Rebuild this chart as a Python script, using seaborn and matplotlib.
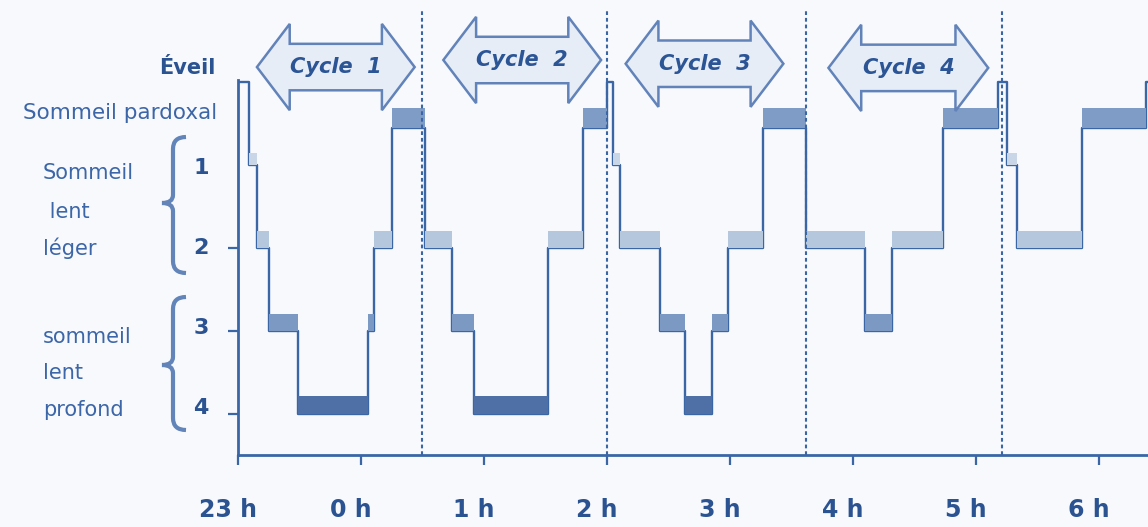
import numpy as np
import pandas as pd
import seaborn as sns
import matplotlib.pyplot as plt
from matplotlib.patches import Polygon, PathPatch
from matplotlib.path import Path

# hypnogram data: start of each stage (minutes after 23:00) and the stage
seg_start_min = [0, 5, 9, 15, 29, 63, 66, 75, 91, 104, 115, 151, 168, 180, 183,
                 186, 206, 218, 231, 239, 256, 277, 306, 319, 344, 371, 375, 380,
                 412, 443]
seg_stage = ["W", "1", "2", "3", "4", "3", "2", "REM", "2", "3", "4", "2", "REM",
             "W", "1", "2", "3", "4", "3", "2", "REM", "2", "3", "2", "REM", "W",
             "1", "2", "REM", "W"]
end_min = 444

cycle_names = ["Cycle  1", "Cycle  2", "Cycle  3", "Cycle  4"]
cycle_bounds_min = [89.5, 180, 277, 372.5]

hour_ticks_min = [0, 60, 120, 180, 240, 300, 360, 420]
hour_labels = ["23 h", "0 h", "1 h", "2 h", "3 h", "4 h", "5 h", "6 h"]

# styling
W, H = 1148, 527
bg = "#f7f9fc"
line_c = "#3a66a6"
text_c = "#3c66a8"
dark_c = "#2b5391"
depth = {"W": 0.0, "REM": 0.55, "1": 1.0, "2": 2.0, "3": 3.0, "4": 4.0}
bar_h = {"REM": 0.24, "1": 0.14, "2": 0.2, "3": 0.2, "4": 0.22}
bar_c = {"REM": "#7f9cc6", "1": "#c9d6e7", "2": "#b5c7dd", "3": "#7b99c3", "4": "#4e70a7"}

sns.set_theme(style="white")
plt.rcParams['font.family'] = ['DejaVu Sans']

fig = plt.figure(figsize=(W / 100, H / 100), dpi=100, facecolor=bg)
ax = fig.add_axes([238.5 / W, (H - 455) / H, (W - 238.5) / W, 455 / H])
ax.set_facecolor(bg)

# stage bars (drawn over the step line)
for i, st in enumerate(seg_stage):
    if st == "W":
        continue
    t0 = seg_start_min[i]
    t1 = seg_start_min[i + 1] if i + 1 < len(seg_start_min) else end_min
    ax.bar(t0, bar_h[st], width=t1 - t0, bottom=depth[st] - bar_h[st],
           align="edge", color=bar_c[st], linewidth=0, zorder=5)

# step line
df = pd.DataFrame({"t": seg_start_min + [end_min],
                   "depth": [depth[s] for s in seg_stage] + [depth[seg_stage[-1]]]})
sns.lineplot(data=df, x="t", y="depth", drawstyle="steps-post", color=line_c,
             lw=1.7, estimator=None, sort=False, ax=ax, zorder=4)

ax.set_xlim(0, 444)
ax.set_ylim(4.494, -0.988)
ax.set_xlabel("")
ax.set_ylabel("")

# cycle separators
ax.vlines(cycle_bounds_min, 4.494, -0.87, colors=line_c, lw=1.5,
          linestyles=(0, (1.8, 1.4)), zorder=6)

# axes / ticks
for s in ["top", "right"]:
    ax.spines[s].set_visible(False)
ax.spines["left"].set_bounds(4.494, -0.02)
for s in ["left", "bottom"]:
    ax.spines[s].set_color(line_c)
    ax.spines[s].set_linewidth(2)
ax.set_xticks(hour_ticks_min)
ax.set_xticklabels([])
ax.set_yticks([2, 3, 4])
ax.set_yticklabels([])
ax.tick_params(axis="both", direction="out", length=7, width=1.6, color=line_c,
               left=True, bottom=True)

for t, lab in zip(hour_ticks_min, hour_labels):
    ax.text(t - 5, -0.121, lab, transform=ax.get_xaxis_transform(), ha="center",
            va="center", fontsize=17, fontweight="bold", color=dark_c)

# cycle arrows
arrows = [(9, 86, -0.18), (100, 177, -0.265), (189, 266, -0.22), (288, 366, -0.17)]
hl, sh, hh = 16, 0.28, 0.52
for (x0, x1, yc), name in zip(arrows, cycle_names):
    pts = [(x0, yc), (x0 + hl, yc - hh), (x0 + hl, yc - sh), (x1 - hl, yc - sh),
           (x1 - hl, yc - hh), (x1, yc), (x1 - hl, yc + hh), (x1 - hl, yc + sh),
           (x0 + hl, yc + sh), (x0 + hl, yc + hh)]
    ax.add_patch(Polygon(pts, closed=True, facecolor="#e6edf6", edgecolor="#6283b9",
                         lw=1.8, clip_on=False, zorder=7))
    ax.text((x0 + x1) / 2, yc, name, ha="center", va="center", fontsize=15,
            fontweight="bold", style="italic", color="#2c5596", zorder=8)


# left labels
def px(x, y):
    return x / W, 1 - y / H


fig.text(*px(187, 68), "Éveil", ha="center", va="center", fontsize=15,
         fontweight="bold", color=dark_c)
fig.text(*px(120, 113), "Sommeil pardoxal", ha="center", va="center",
         fontsize=15.5, color=text_c)
for y, s in [(168, "1"), (248, "2"), (328, "3"), (408, "4")]:
    fig.text(*px(201, y), s, ha="center", va="center", fontsize=16,
             fontweight="bold", color=dark_c)
for y, s in [(173, "Sommeil"), (212, " lent"), (248, "léger"),
             (337, "sommeil"), (373, "lent"), (410, "profond")]:
    fig.text(*px(43, y), s, ha="left", va="center", fontsize=15, color=text_c)

# braces
for top, mid, bot in [(137, 203, 273), (297, 365, 430)]:
    verts = [px(186, top), px(173, top), px(173, top + 12), px(173, mid - 8),
             px(173, mid), px(162, mid), px(173, mid), px(173, mid + 8),
             px(173, bot - 12), px(173, bot), px(186, bot)]
    codes = [Path.MOVETO, Path.CURVE3, Path.CURVE3, Path.LINETO, Path.CURVE3,
             Path.CURVE3, Path.CURVE3, Path.CURVE3, Path.LINETO, Path.CURVE3,
             Path.CURVE3]
    fig.add_artist(PathPatch(Path(verts, codes), facecolor="none", edgecolor="#6384b8",
                             lw=3, transform=fig.transFigure))

fig.savefig("out.png", dpi=100, facecolor=bg)
